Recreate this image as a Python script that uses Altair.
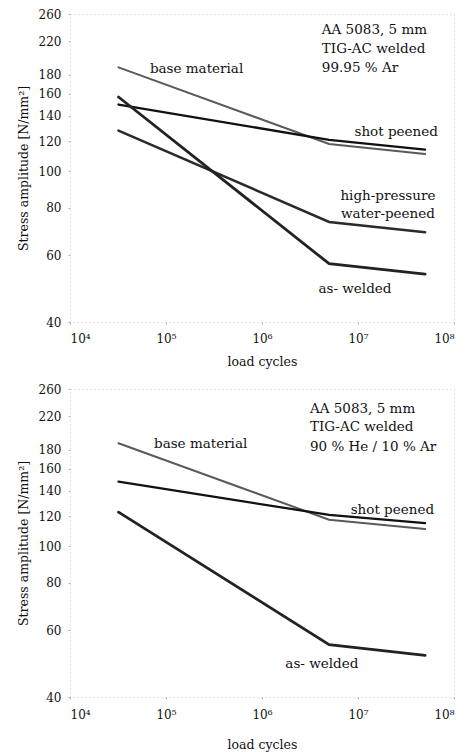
import altair as alt
import pandas as pd

# ---------------- data ----------------
cycles = [3.2e4, 5e6, 5e7]

top_series = ["base material", "shot peened", "high-pressure water-peened", "as- welded"]
top_values = {
    "base material": [188, 118, 111],
    "shot peened": [150, 121, 114],
    "high-pressure water-peened": [128, 73.5, 69],
    "as- welded": [157, 57, 53.5],
}

bot_series = ["base material", "shot peened", "as- welded"]
bot_values = {
    "base material": [187, 117.5, 111],
    "shot peened": [148, 121, 115],
    "as- welded": [123, 55, 51.5],
}

# annotations (text, x in cycles, y in N/mm², alignment)
top_text = ["base material", "AA 5083, 5 mm", "TIG-AC welded", "99.95 % Ar",
            "shot peened", "high-pressure", "water-peened", "as- welded"]
top_tx = [6.8e4, 4.2e6, 4.2e6, 4.2e6, 6.8e7, 2.05e7, 2.05e7, 9.3e6]
top_ty = [186, 236, 210, 187, 127, 86, 77, 48.9]
top_al = ["left", "left", "left", "left", "right", "center", "center", "center"]

bot_text = ["base material", "AA 5083, 5 mm", "TIG-AC welded", "90 % He / 10 % Ar",
            "shot peened", "as- welded"]
bot_tx = [7.5e4, 3.16e6, 3.16e6, 3.16e6, 6.2e7, 4.2e6]
bot_ty = [186, 230, 206, 183, 125, 48.9]
bot_al = ["left", "left", "left", "left", "right", "center"]

x_ticks = [1e4, 1e5, 1e6, 1e7, 1e8]
y_ticks = [40, 60, 80, 100, 120, 140, 160, 180, 220, 260]

colors = {"base material": "#5a5a5a", "shot peened": "#111111",
          "high-pressure water-peened": "#2a2a2a", "as- welded": "#222222"}
widths = {"base material": 2.0, "shot peened": 2.8,
          "high-pressure water-peened": 2.0, "as- welded": 2.0}

FONT = "DejaVu Serif"


def lines_df(series, values):
    rows = []
    for s in series:
        for i, (c, v) in enumerate(zip(cycles, values[s])):
            rows.append({"series": s, "cycles": c, "stress": v, "i": i})
    return pd.DataFrame(rows)


def text_df(t, x, y, a):
    return pd.DataFrame({"label": t, "cycles": x, "stress": y, "align": a})


def panel(ldf, tdf, title_pad, label_pad):
    x = alt.X("cycles:Q",
              scale=alt.Scale(type="log", domain=[1e4, 1e8], nice=False),
              axis=alt.Axis(values=x_ticks, title="load cycles",
                            labelExpr="'10' + ['⁰','¹','²','³','⁴','⁵','⁶','⁷','⁸'][round(log(datum.value)/LN10)]",
                            labelPadding=label_pad, titlePadding=title_pad))
    y = alt.Y("stress:Q",
              scale=alt.Scale(type="log", domain=[40, 260], nice=False),
              axis=alt.Axis(values=y_ticks, title="Stress amplitude [N/mm²]",
                            labelPadding=7, titlePadding=8))
    sers = list(ldf["series"].unique())
    lines = alt.Chart(ldf).mark_line(strokeCap="round").encode(
        x=x, y=y,
        detail="series:N",
        order="i:Q",
        color=alt.Color("series:N", scale=alt.Scale(domain=sers, range=[colors[s] for s in sers]), legend=None),
        strokeWidth=alt.StrokeWidth("series:N", scale=alt.Scale(domain=sers, range=[widths[s] for s in sers]), legend=None),
    )
    layers = [lines]
    for al in ["left", "right", "center"]:
        layers.append(
            alt.Chart(tdf).transform_filter(alt.datum.align == al).mark_text(
                align=al, baseline="middle", font=FONT, fontSize=13.5, color="#111"
            ).encode(x=x, y=y, text="label:N")
        )
    return alt.layer(*layers).properties(width=384, height=308)


top = panel(lines_df(top_series, top_values), text_df(top_text, top_tx, top_ty, top_al), 11, 9)
bot = panel(lines_df(bot_series, bot_values), text_df(bot_text, bot_tx, bot_ty, bot_al), 18, 10)

chart = alt.vconcat(top, bot, spacing=14).properties(
    padding={"left": 16, "top": 7, "right": 8, "bottom": 2},
    background="white",
).configure_view(
    stroke="#c8c8c8", strokeDash=[1, 3], strokeWidth=1
).configure_axis(
    grid=False, domain=False, tickSize=2, tickColor="#b0b0b0",
    labelFont=FONT, labelFontSize=12, labelColor="#111", labelFontWeight="normal",
    titleFont=FONT, titleFontSize=12.5, titleColor="#111", titleFontWeight="normal",
)

chart.save("out.html", embed_options={"renderer": "svg", "actions": False})
